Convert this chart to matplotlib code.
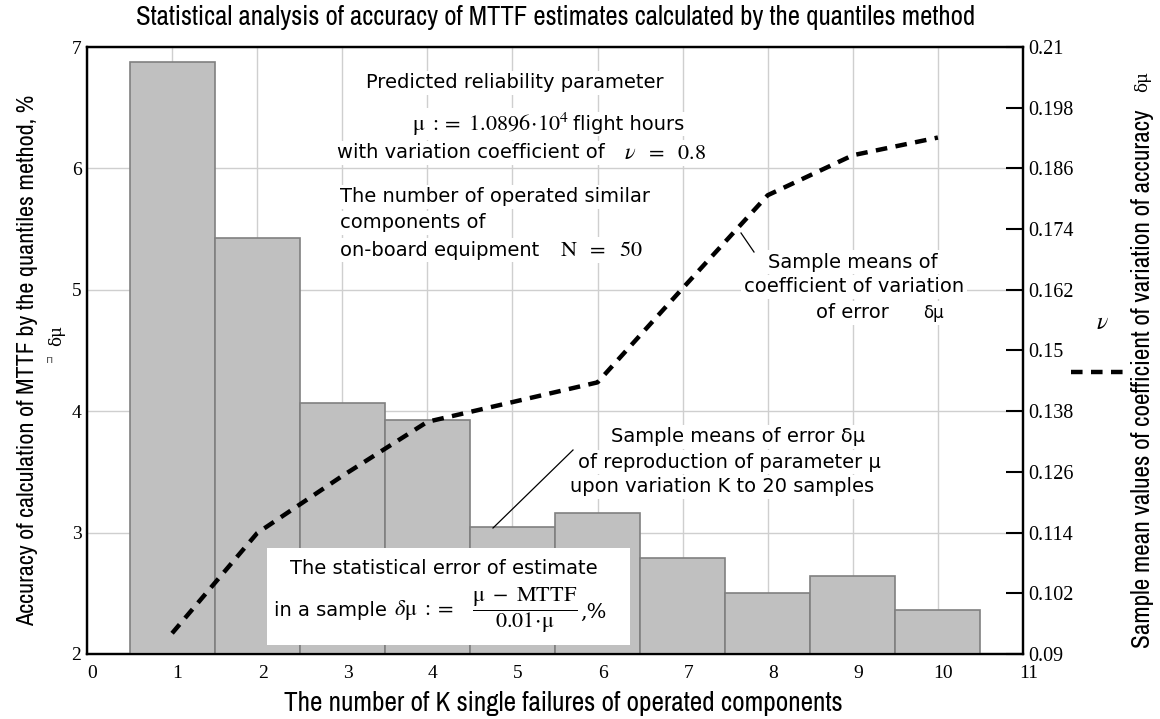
import matplotlib
matplotlib.use("Agg")
import matplotlib.pyplot as plt
import numpy as np
from matplotlib.lines import Line2D
from matplotlib.patches import Rectangle
import matplotlib.transforms as mtransforms
from matplotlib import font_manager as fm

# ---------------- data ----------------
k_values = [1, 2, 3, 4, 5, 6, 7, 8, 9, 10]
mean_error = [6.88, 5.43, 4.07, 3.93, 3.05, 3.16, 2.79, 2.50, 2.64, 2.36]
coef_variation = [0.0941, 0.1139, 0.1252, 0.1359, 0.1398, 0.1437, 0.1623, 0.1807, 0.1886, 0.1921]
x_ticks = list(range(0, 12))
left_ticks = [2, 3, 4, 5, 6, 7]
right_ticks = [0.09, 0.102, 0.114, 0.126, 0.138, 0.15, 0.162, 0.174, 0.186, 0.198, 0.21]
right_tick_labels = ["0.09", "0.102", "0.114", "0.126", "0.138", "0.15", "0.162",
                     "0.174", "0.186", "0.198", "0.21"]

plt.rcParams['mathtext.fontset'] = 'stix'

# choose a narrow font if one exists
narrow_family, narrow_stretch = 'DejaVu Sans', 'normal'
names = sorted({f.name for f in fm.fontManager.ttflist})
for cand in names:
    if 'Narrow' in cand or 'Condensed' in cand:
        narrow_family = cand
        break

SANS = ['DejaVu Sans']
TICKF = ['Liberation Serif', 'DejaVu Serif']

W, H = 1160, 719
fig = plt.figure(figsize=(W / 100, H / 100), dpi=100)
ax_l, ax_r, ax_t, ax_b = 87, 1023, 47, 654
ax = fig.add_axes([ax_l / W, 1 - ax_b / H, (ax_r - ax_l) / W, (ax_b - ax_t) / H])
renderer = fig.canvas.get_renderer()

def fx(x):
    return x / W

def fy(y):
    return 1 - y / H

def fit(t, target, vertical=False):
    bb = t.get_window_extent(renderer=renderer)
    cur = bb.height if vertical else bb.width
    t.set_fontsize(t.get_fontsize() * target / cur)

# bars
ax.bar(k_values, mean_error, width=1.0, bottom=0, color='#c0c0c0',
       edgecolor='#808080', linewidth=1.2, zorder=3)
ax.set_xlim(0, 11)
ax.set_ylim(2, 7)
ax.set_xticks(x_ticks)
ax.set_yticks(left_ticks)
ax.grid(True, color='#cfcfcf', linewidth=1.0, zorder=0)
ax.set_axisbelow(True)
ax.tick_params(axis='both', length=0)
ax.tick_params(axis='x', pad=8)
ax.tick_params(axis='y', pad=4)
for lab in ax.get_xticklabels() + ax.get_yticklabels():
    lab.set_fontfamily(TICKF)
    lab.set_fontsize(14)
offset = mtransforms.ScaledTranslation(4 / 72, 0, fig.dpi_scale_trans)
for lab in ax.get_xticklabels():
    lab.set_transform(lab.get_transform() + offset)
for sp in ax.spines.values():
    sp.set_linewidth(1.6)
    sp.set_color('black')

# right axis
ax2 = ax.twinx()
ax2.set_ylim(0.09, 0.21)
ax2.set_yticks(right_ticks)
ax2.set_yticklabels(right_tick_labels, fontfamily=TICKF, fontsize=14.5)
ax2.tick_params(axis='y', direction='in', length=12, width=1.5, pad=4, colors='black')
for sp in ax2.spines.values():
    sp.set_linewidth(1.6)
ax2.plot(k_values, coef_variation, color='black', linewidth=3.2,
         linestyle=(0, (2.6, 1.9)), dash_capstyle='butt', zorder=6)
ax2.set_zorder(ax.get_zorder() + 1)
ax2.patch.set_visible(False)

# titles and axis labels
nkw = dict(fontfamily=narrow_family, fontstretch=narrow_stretch, fontsize=15)
t = fig.text(fx(556), fy(18), 'Statistical analysis of accuracy of MTTF estimates calculated by the quantiles method',
             ha='center', va='center', **nkw)
fit(t, 838)
t = fig.text(fx(563), fy(703), 'The number of K single failures of operated components',
             ha='center', va='center', **nkw)
fit(t, 560)
t = fig.text(fx(28), fy(360), 'Accuracy of calculation of MTTF by the quantiles method, %',
             ha='center', va='center', rotation=90, **nkw)
fit(t, 530, vertical=True)
t = fig.text(fx(1143), fy(379), 'Sample mean values of coefficient of variation of accuracy',
             ha='center', va='center', rotation=90, **nkw)
fit(t, 538, vertical=True)
fig.text(fx(1143), fy(82), 'δμ', ha='center', va='center', rotation=90, fontsize=12,
         fontfamily=['DejaVu Serif'])
fig.text(fx(57), fy(336), 'δμ', ha='center', va='center', rotation=90, fontsize=12,
         fontfamily=['DejaVu Serif'])
fig.text(fx(50), fy(360), 'п', ha='center', va='center', fontsize=8, color='#555555')

# right legend (nu)
fig.text(fx(1102), fy(322), r'$\nu$', ha='center', va='center', fontsize=17)
fig.add_artist(Line2D([fx(1071), fx(1123)], [fy(372), fy(372)], color='black',
                      linewidth=3.2, linestyle=(0, (2.6, 1.9)), dash_capstyle='butt'))

bbx = dict(facecolor='white', edgecolor='none', pad=2)
TS = 14
MS = 16

def label(x, y, s, ha='center', size=TS, fam=None):
    return fig.text(fx(x), fy(y), s, ha=ha, va='center', fontsize=size,
                    fontfamily=fam or SANS, bbox=bbx, zorder=7)

def math(x, y, s, ha='left', size=MS):
    return fig.text(fx(x), fy(y), s, ha=ha, va='center', fontsize=size, bbox=bbx, zorder=7)

# top-left annotation block
label(515, 83, 'Predicted reliability parameter')
math(569, 124, r'$\mathrm{\mu}\ :=\ 1.0896\!\cdot\!10^{4}$', ha='right')
label(573, 124, 'flight hours', ha='left')
label(337, 153, 'with variation coefficient of', ha='left')
math(624, 153, r'$\nu\ \ =\ \ 0.8$')
label(340, 197, 'The number of operated similar', ha='left')
label(340, 223, 'components of', ha='left')
label(340, 250, 'on-board equipment', ha='left')
math(560, 250, r'$\mathrm{N}\ \ =\ \ 50$')

# coefficient of variation annotation
label(853, 262, 'Sample means of')
label(854, 287, 'coefficient of variation')
label(852, 313, 'of error')
label(933, 313, 'δμ', size=12)
fig.add_artist(Line2D([fx(741), fx(754)], [fy(233), fy(252)], color='black', linewidth=0.9))

# error annotation
label(738, 437, 'Sample means of error δμ')
label(729, 462, 'of reproduction of parameter μ')
label(722, 487, 'upon variation K to 20 samples')
fig.add_artist(Line2D([fx(573), fx(493)], [fy(450), fy(528)], color='black', linewidth=0.9))

# statistical error box
fig.add_artist(Rectangle((fx(267), fy(645)), fx(630) - fx(267), fy(548) - fy(645),
                         facecolor='white', edgecolor='none', zorder=6))
fig.text(fx(444), fy(568), 'The statistical error of estimate', ha='center', va='center',
         fontsize=TS, fontfamily=SANS, zorder=7)
fig.text(fx(274), fy(610), 'in a sample', ha='left', va='center',
         fontsize=TS, fontfamily=SANS, zorder=7)
fig.text(fx(394), fy(610), r'$\delta\mathrm{\mu}\ :=$',
         ha='left', va='center', fontsize=16, zorder=7)
fig.text(fx(525), fy(610), r'$\dfrac{\mathrm{\mu}\ -\ \mathrm{MTTF}}{0.01\!\cdot\!\mathrm{\mu}}$',
         ha='center', va='center', fontsize=16, zorder=7)
fig.text(fx(580), fy(612), ',%', ha='left', va='center', fontsize=15,
         fontfamily=['DejaVu Serif'], zorder=7)

fig.savefig('out.png', dpi=100, facecolor='white')
